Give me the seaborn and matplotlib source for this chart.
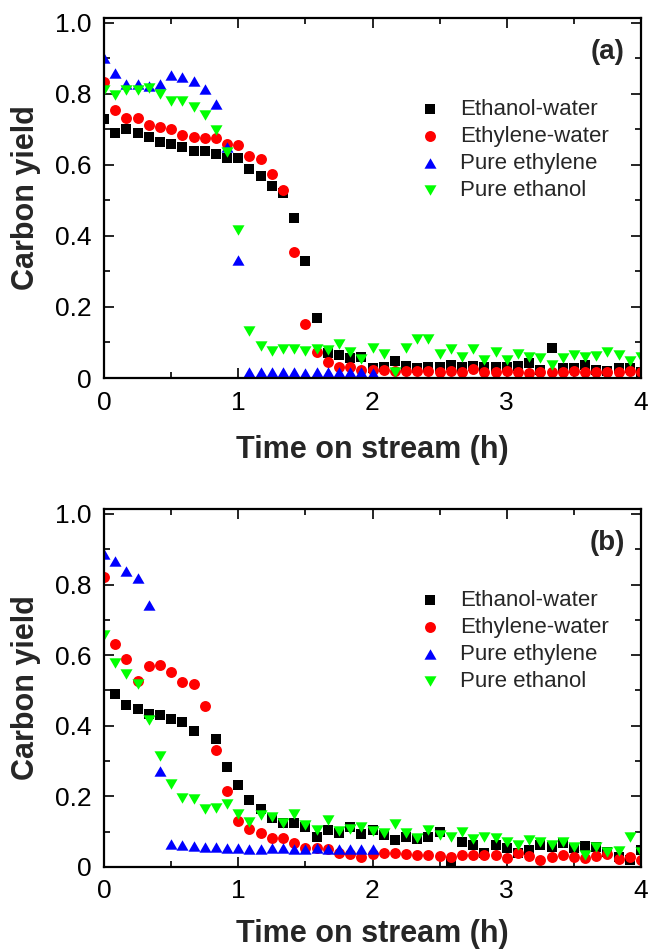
import numpy as np
import pandas as pd
import matplotlib
matplotlib.use("Agg")
import matplotlib.pyplot as plt
from matplotlib.ticker import MultipleLocator, FuncFormatter
import seaborn as sns

nan = float("nan")

# ---------------- data ----------------
time_min = [0, 5, 10, 15, 20, 25, 30, 35, 40, 45, 50, 55, 60, 65, 70, 75, 80, 85,
            90, 95, 100, 105, 110, 115, 120, 125, 130, 135, 140, 145, 150, 155,
            160, 165, 170, 175, 180, 185, 190, 195, 200, 205, 210, 215, 220, 225,
            230, 235, 240]

series_names = ["Ethanol-water", "Ethylene-water", "Pure ethylene", "Pure ethanol"]

# Panel (a)
a_ethanol_water = [0.73, 0.69, 0.70, 0.69, 0.68, 0.665, 0.66, 0.65, 0.64, 0.64, 0.63,
                   0.62, 0.62, 0.59, 0.57, 0.54, 0.52, 0.45, 0.33, 0.17, 0.07, 0.065,
                   0.055, 0.06, 0.027, 0.032, 0.048, 0.033, 0.027, 0.032, 0.032, 0.037,
                   0.032, 0.034, 0.032, 0.032, 0.032, 0.034, 0.041, 0.022, 0.085, 0.027,
                   0.027, 0.037, 0.022, 0.021, 0.027, 0.027, 0.018]
a_ethylene_water = [0.835, 0.755, 0.733, 0.731, 0.713, 0.708, 0.70, 0.685, 0.678, 0.676,
                    0.676, 0.659, 0.656, 0.626, 0.617, 0.574, 0.53, 0.354, 0.151, 0.072,
                    0.044, 0.032, 0.031, 0.022, 0.022, 0.022, 0.02, 0.02, 0.02, 0.02,
                    0.018, 0.021, 0.018, 0.025, 0.018, 0.018, 0.021, 0.018, 0.015, 0.018,
                    0.018, 0.018, 0.02, 0.018, 0.018, 0.018, 0.018, 0.021, 0.018]
a_pure_ethylene = [0.90, 0.86, 0.828, 0.828, 0.823, 0.828, 0.854, 0.848, 0.837, 0.814,
                   0.771, 0.652, 0.331, 0.016, 0.018, 0.018, 0.016, 0.018, 0.014, 0.016,
                   0.016, 0.018, 0.018, 0.016, 0.014] + [nan] * 24
a_pure_ethanol = [0.81, 0.797, 0.81, 0.81, 0.818, 0.80, 0.781, 0.781, 0.762, 0.742,
                  0.698, 0.636, 0.416, 0.133, 0.091, 0.076, 0.081, 0.082, 0.076, 0.081,
                  0.079, 0.096, 0.074, 0.054, 0.084, 0.067, 0.018, 0.084, 0.111, 0.111,
                  0.067, 0.081, 0.058, 0.081, 0.052, 0.074, 0.052, 0.067, 0.058, 0.055,
                  0.037, 0.055, 0.065, 0.06, 0.062, 0.074, 0.065, 0.049, 0.058]

# Panel (b)
b_ethanol_water = [nan, 0.49, 0.459, 0.447, 0.433, 0.43, 0.42, 0.41, 0.385, nan, 0.362,
                   0.282, 0.232, 0.19, 0.163, 0.139, 0.125, 0.125, 0.114, 0.084, 0.105,
                   0.095, 0.114, 0.093, 0.105, 0.091, 0.076, 0.084, 0.078, 0.086, 0.10,
                   0.015, 0.072, 0.062, 0.039, 0.062, 0.053, 0.041, 0.048, 0.062, 0.058,
                   0.067, 0.053, 0.059, 0.058, 0.043, 0.029, 0.02, 0.048]
b_ethylene_water = [0.822, 0.631, 0.59, 0.528, 0.569, 0.572, 0.553, 0.523, 0.519, 0.457,
                    0.331, 0.216, 0.13, 0.107, 0.097, 0.083, 0.081, 0.067, 0.055, 0.055,
                    0.051, 0.039, 0.037, 0.029, 0.037, 0.039, 0.039, 0.037, 0.035, 0.035,
                    0.031, 0.029, 0.035, 0.035, 0.035, 0.034, 0.025, 0.041, 0.031, 0.02,
                    0.029, 0.035, 0.029, 0.025, 0.031, 0.037, 0.022, 0.029, 0.02]
b_pure_ethylene = [0.887, 0.868, 0.837, 0.818, 0.742, 0.272, 0.064, 0.062, 0.06, 0.056,
                   0.056, 0.055, 0.055, 0.051, 0.052, 0.053, 0.053, 0.051, 0.05, 0.053,
                   0.05, 0.052, 0.052, 0.052, 0.052] + [nan] * 24
b_pure_ethanol = [0.657, 0.577, 0.547, 0.518, 0.416, 0.314, 0.235, 0.195, 0.193, 0.163,
                  0.166, 0.178, 0.149, 0.128, 0.147, 0.141, 0.125, 0.15, 0.119, 0.105,
                  0.133, 0.103, 0.107, 0.114, 0.103, 0.097, 0.122, 0.097, 0.081, 0.105,
                  0.091, 0.086, 0.10, 0.079, 0.086, 0.081, 0.072, 0.062, 0.077, 0.072,
                  0.062, 0.072, 0.058, 0.034, 0.058, 0.043, 0.045, 0.084, 0.043]

x_ticks = [0, 1, 2, 3, 4]
y_ticks = [0, 0.2, 0.4, 0.6, 0.8, 1.0]
panel_labels = ["(a)", "(b)"]
x_label = "Time on stream (h)"
y_label = "Carbon yield"

# ---------------- style ----------------
sns.set_style("ticks")
plt.rcParams["font.family"] = ["Liberation Sans", "DejaVu Sans"]

colors = {"Ethanol-water": "#000000", "Ethylene-water": "#ff0000",
          "Pure ethylene": "#0000ff", "Pure ethanol": "#00ff00"}
tri_up = [(0, 0.433), (-0.5, -0.433), (0.5, -0.433)]
tri_dn = [(0, -0.433), (-0.5, 0.433), (0.5, 0.433)]
markers = {"Ethanol-water": "s", "Ethylene-water": "o",
           "Pure ethylene": tri_up, "Pure ethanol": tri_dn}
sizes = {"Ethanol-water": 50, "Ethylene-water": 62,
         "Pure ethylene": 75, "Pure ethanol": 75}

W, H = 652, 951
fig = plt.figure(figsize=(W / 100, H / 100), dpi=100)
ax_a = fig.add_axes([104 / W, 1 - 378 / H, 537 / W, 360 / H])
ax_b = fig.add_axes([104 / W, 1 - 867 / H, 537 / W, 358 / H])

t_hours = np.array(time_min) / 60.0
panels = [
    (ax_a, [a_ethanol_water, a_ethylene_water, a_pure_ethylene, a_pure_ethanol], 15),
    (ax_b, [b_ethanol_water, b_ethylene_water, b_pure_ethylene, b_pure_ethanol], 11),
]

for (ax, data, xpad), plabel in zip(panels, panel_labels):
    for name, vals in zip(series_names, data):
        df = pd.DataFrame({"t": t_hours, "y": vals}).dropna()
        sns.scatterplot(data=df, x="t", y="y", ax=ax, color=colors[name],
                        marker=markers[name], s=sizes[name], linewidth=0,
                        label=name, legend=False)
    ax.set_xlim(0, 4)
    ax.set_ylim(0, 1.014)
    ax.set_xticks(x_ticks)
    ax.set_yticks(y_ticks)
    ax.xaxis.set_minor_locator(MultipleLocator(0.5))
    ax.yaxis.set_minor_locator(MultipleLocator(0.1))
    ax.yaxis.set_major_formatter(FuncFormatter(lambda v, p: "0" if abs(v) < 1e-9 else f"{v:.1f}"))
    ax.xaxis.set_major_formatter(FuncFormatter(lambda v, p: f"{v:.0f}"))
    ax.tick_params(which="both", direction="in", top=True, right=True,
                   width=1.2, colors="black", labelsize=19)
    ax.tick_params(which="major", length=7, pad=9)
    ax.tick_params(which="minor", length=4)
    for sp in ax.spines.values():
        sp.set_linewidth(1.6)
        sp.set_color("black")
        sp.set_visible(True)
    ax.set_xlabel(x_label, fontsize=22, fontweight="bold", labelpad=xpad)
    ax.set_ylabel(y_label, fontsize=22, fontweight="bold", labelpad=10)
    ax.text(0.970, 0.905, plabel, transform=ax.transAxes, ha="right", va="center",
            fontsize=20, fontweight="bold")
    handles, labels = ax.get_legend_handles_labels()
    ax.legend(handles, labels, loc="upper left", bbox_to_anchor=(0.5866, 0.775),
              frameon=False, fontsize=16, borderpad=0, borderaxespad=0,
              handlelength=1.0, handletextpad=0.83, labelspacing=0.27,
              markerscale=1.0)

fig.savefig("out.png", dpi=100)
